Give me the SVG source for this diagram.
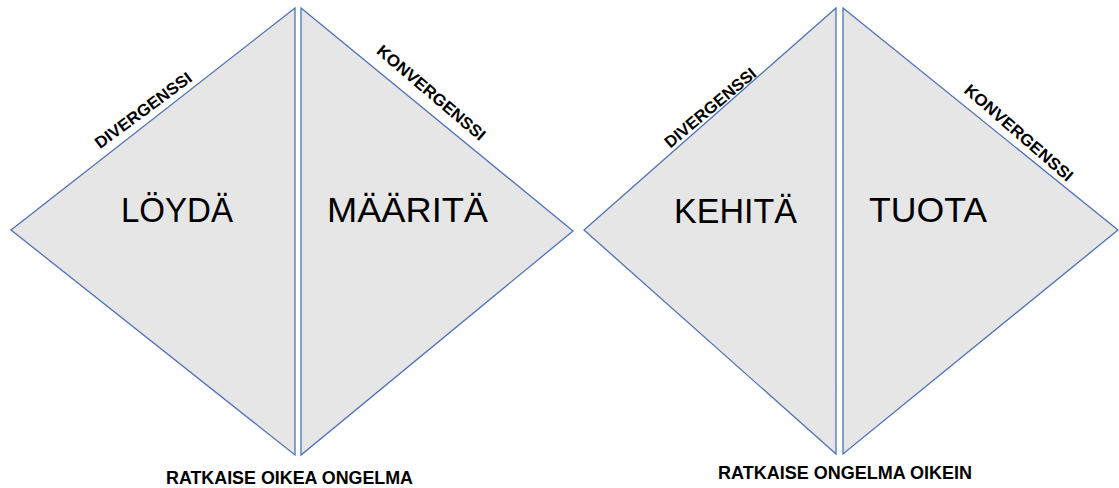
<svg xmlns="http://www.w3.org/2000/svg" width="1119" height="488" viewBox="0 0 1119 488">
  <style>
    .tri { fill: #e7e6e6; stroke: #4d72b8; stroke-width: 1.3; stroke-linejoin: miter; }
    .big { font-family: "Liberation Sans", Arial, sans-serif; font-size: 35px; fill: #000; text-anchor: middle; }
    .edge { font-family: "Liberation Sans", Arial, sans-serif; font-size: 16.5px; font-weight: bold; fill: #000; text-anchor: middle; }
    .foot { font-family: "Liberation Sans", Arial, sans-serif; font-size: 17.5px; font-weight: bold; fill: #000; text-anchor: middle; }
  </style>
  <rect x="0" y="0" width="1119" height="488" fill="#ffffff"/>

  <g id="loyda">
    <polygon class="tri" points="295,8 11,230 295,455"/>
    <text class="big" x="177" y="222" textLength="112" lengthAdjust="spacingAndGlyphs">LÖYDÄ</text>
    <text class="edge" transform="translate(143,110) rotate(-36.5)" x="0" y="6" textLength="116" lengthAdjust="spacingAndGlyphs">DIVERGENSSI</text>
  </g>

  <g id="maarita">
    <polygon class="tri" points="301,8 573,231 301,455"/>
    <text class="big" x="407.5" y="222" textLength="161" lengthAdjust="spacingAndGlyphs">MÄÄRITÄ</text>
    <text class="edge" transform="translate(431.5,92.5) rotate(40.5)" x="0" y="6" textLength="137" lengthAdjust="spacingAndGlyphs">KONVERGENSSI</text>
  </g>

  <g id="kehita">
    <polygon class="tri" points="836,8 584,230 836,454"/>
    <text class="big" x="735.5" y="223" textLength="123" lengthAdjust="spacingAndGlyphs">KEHITÄ</text>
    <text class="edge" transform="translate(710,107.5) rotate(-40)" x="0" y="6" textLength="114" lengthAdjust="spacingAndGlyphs">DIVERGENSSI</text>
  </g>

  <g id="tuota">
    <polygon class="tri" points="843,8 1118,230 843,454"/>
    <text class="big" x="928" y="222" textLength="118" lengthAdjust="spacingAndGlyphs">TUOTA</text>
    <text class="edge" transform="translate(1019,132.5) rotate(41)" x="0" y="6" textLength="138" lengthAdjust="spacingAndGlyphs">KONVERGENSSI</text>
  </g>

  <g id="label-left">
    <text class="foot" x="289.5" y="484" textLength="247" lengthAdjust="spacingAndGlyphs">RATKAISE OIKEA ONGELMA</text>
  </g>
  <g id="label-right">
    <text class="foot" x="845" y="479" textLength="254" lengthAdjust="spacingAndGlyphs">RATKAISE ONGELMA OIKEIN</text>
  </g>
</svg>
